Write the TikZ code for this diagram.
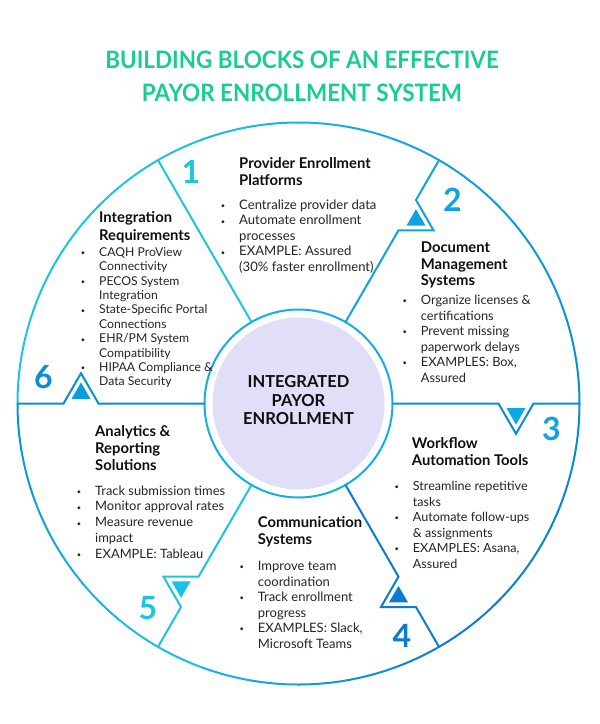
\documentclass[tikz,border=0pt]{standalone}
\usepackage{fontspec}
\setmainfont{Lato}
\usetikzlibrary{calc}
\definecolor{tgreen}{RGB}{24,205,143}
\definecolor{turq}{RGB}{30,198,214}
\definecolor{cyanb}{RGB}{28,196,228}
\definecolor{blueA}{RGB}{16,163,225}
\definecolor{blueB}{RGB}{10,140,214}
\definecolor{blueC}{RGB}{11,124,208}
\definecolor{innerc}{RGB}{20,175,225}
\definecolor{lav}{RGB}{225,222,247}
\definecolor{headc}{RGB}{14,14,14}
\definecolor{bodyc}{RGB}{36,36,36}
\definecolor{triA}{RGB}{14,163,224}
\definecolor{triB}{RGB}{12,170,228}
\definecolor{triC}{RGB}{10,123,210}
\definecolor{triD}{RGB}{20,196,228}
\definecolor{triE}{RGB}{10,157,220}
\newcommand\lines[1]{\begin{tabular}[t]{@{}l@{}}#1\end{tabular}}
\newcommand\bul{\makebox[0pt][r]{\raisebox{0.6pt}{\fontsize{7.5}{7.5}\selectfont •}\hspace{14pt}}}
\tikzset{
  seg/.style={line width=2pt},
  headtxt/.style={anchor=base west, inner sep=0pt, text=headc, font=\fontsize{14.8}{16.8}\selectfont\bfseries},
  bodytxt/.style={anchor=base west, inner sep=0pt, text=bodyc, font=\fontsize{12.9}{15.5}\selectfont},
  numtxt/.style={anchor=center, inner sep=0pt, font=\fontsize{32}{32}\selectfont\bfseries},
  titletxt/.style={anchor=base, inner sep=0pt, text=tgreen, font=\fontsize{24}{24}\selectfont\bfseries},
}
\begin{document}
\begin{tikzpicture}[x=1pt,y=-1pt]
\useasboundingbox (0,0) rectangle (600,724);
\coordinate (O) at (298.5,403.5);
% title
\node[titletxt] (t1) at (302,68.5) {\scalebox{0.935}[1]{BUILDING BLOCKS OF AN EFFECTIVE}};
\node[titletxt] (t2) at (302,101) {\scalebox{0.935}[1]{PAYOR ENROLLMENT SYSTEM}};
% outer circle arcs
\foreach \s/\e/\ca/\cb in {0/60/blueB/blueA, 60/120/blueA/turq, 120/180/turq/cyanb, 180/240/blueB/cyanb, 240/300/cyanb/blueC, 300/360/blueC/blueB}{
  \foreach \i in {0,...,5}{
    \pgfmathsetmacro\p{100-100*(\i+0.5)/6}
    \pgfmathsetmacro\aa{\s+\i*10}
    \pgfmathsetmacro\bb{\s+\i*10+10}
    \draw[seg, line cap=round, color=\ca!\p!\cb] ($(O)+(-\aa:281)$) arc[start angle=-\aa, end angle=-\bb, radius=281];
  }
}
% inner circle
\draw[seg, color=innerc] (O) circle[radius=94];
\fill[lav] (O) circle[radius=86];
% straight line at 120
\draw[seg, color=turq] ($(O)+(-120:94)$) -- ($(O)+(-120:281)$);
% notched lines
\foreach \t/\c/\f in {0/blueB/triB, 60/blueA/triA, 180/blueB/triE, 240/cyanb/triD, 300/blueC/triC}{
  \draw[seg, color=\c] ($(O)+(-\t:94)$) -- ($(O)+(-\t:200)$) -- ($(O)+(-\t:217.5)+(90-\t:30.3)$) -- ($(O)+(-\t:235)$) -- ($(O)+(-\t:281)$);
  \fill[color=\f] ($(O)+(-\t:208)+(90-\t:4.6)$) -- ($(O)+(-\t:227)+(90-\t:4.6)$) -- ($(O)+(-\t:217.5)+(90-\t:21.1)$) -- cycle;
}
% numbers
\node[numtxt, text=turq] (n1) at (191,172) {1};
\node[numtxt, text=blueA] (n2) at (452.5,200) {2};
\node[numtxt, text=blueA] (n3) at (551.5,429) {3};
\node[numtxt, text=blueC] (n4) at (402,635.5) {4};
\node[numtxt, text=cyanb] (n5) at (148,608.5) {5};
\node[numtxt, text=blueB] (n6) at (43.5,377) {6};
% center
\node[anchor=base, inner sep=0pt, text=headc, font=\fontsize{16.5}{18.5}\selectfont\bfseries] (ctr) at (298.5,387.5) {\begin{tabular}[t]{@{}c@{}}INTEGRATED\\PAYOR\\ENROLLMENT\end{tabular}};
% sector 1
\node[headtxt, font=\fontsize{14.8}{17}\selectfont\bfseries] (s1h) at (239,168) {\lines{Provider Enrollment\\Platforms}};
\node[bodytxt, font=\fontsize{13.1}{15.4}\selectfont] (s1b) at (239,209.5) {\lines{\bul Centralize provider data\\\bul Automate enrollment\\processes\\\bul EXAMPLE: Assured\\(30\% faster enrollment)}};
% sector 2
\node[headtxt] (s2h) at (420.7,252.3) {\lines{Document\\Management\\Systems}};
\node[bodytxt, font=\fontsize{12.8}{15.5}\selectfont] (s2b) at (420.7,304.5) {\lines{\bul Organize licenses \&\\certifications\\\bul Prevent missing\\paperwork delays\\\bul EXAMPLES: Box,\\Assured}};
% sector 3
\node[headtxt] (s3h) at (411.7,448.3) {\lines{Workflow\\Automation Tools}};
\node[bodytxt, font=\fontsize{12.6}{15.5}\selectfont] (s3b) at (412.7,490.5) {\lines{\bul Streamline repetitive\\tasks\\\bul Automate follow-ups\\\& assignments\\\bul EXAMPLES: Asana,\\Assured}};
% sector 4
\node[headtxt] (s4h) at (257.7,527.7) {\lines{Communication\\Systems}};
\node[bodytxt, font=\fontsize{13}{15.5}\selectfont] (s4b) at (257.7,570.5) {\lines{\bul Improve team\\coordination\\\bul Track enrollment\\progress\\\bul EXAMPLES: Slack,\\Microsoft Teams}};
% sector 5
\node[headtxt] (s5h) at (95,436.7) {\lines{Analytics \&\\Reporting\\Solutions}};
\node[bodytxt, font=\fontsize{12.9}{15.7}\selectfont] (s5b) at (95,495.2) {\lines{\bul Track submission times\\\bul Monitor approval rates\\\bul Measure revenue\\impact\\\bul EXAMPLE: Tableau}};
% sector 6
\node[headtxt, font=\fontsize{14.8}{17.7}\selectfont\bfseries] (s6h) at (99,222.3) {\lines{Integration\\Requirements}};
\node[bodytxt, font=\fontsize{12.2}{14.4}\selectfont] (s6b) at (99,256.2) {\lines{\bul CAQH ProView\\Connectivity\\\bul PECOS System\\Integration\\\bul State-Specific Portal\\Connections\\\bul EHR/PM System\\Compatibility\\\bul HIPAA Compliance \&\\Data Security}};
\end{tikzpicture}
\end{document}
